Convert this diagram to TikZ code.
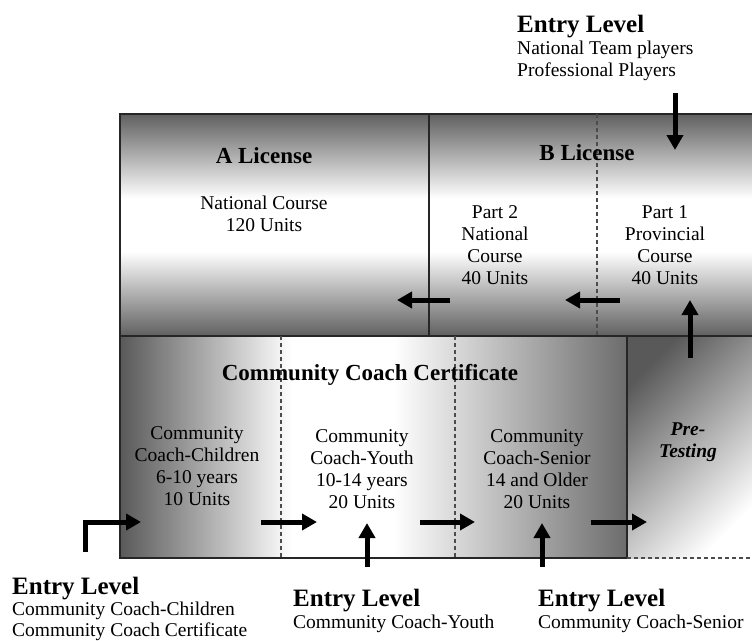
\documentclass[tikz,border=0pt]{standalone}
\usepackage{fontspec}
\setmainfont{Liberation Serif}
\usetikzlibrary{arrows.meta}
\newcommand{\bodysize}{\fontsize{19.5}{22}\selectfont}
\newcommand{\headsize}{\fontsize{23}{26}\selectfont\bfseries}
\newcommand{\entrysize}{\fontsize{25}{28}\selectfont\bfseries}
\pgfdeclareverticalshading{licenseband}{100bp}{color(0bp)=(gray!75!black); color(25bp)=(gray!75!black);
  color(44bp)=(white); color(56bp)=(white); color(75bp)=(gray!75!black); color(100bp)=(gray!75!black)}
\pgfdeclarehorizontalshading{coachband}{100bp}{color(0bp)=(gray!70!black); color(25bp)=(gray!70!black);
  color(42bp)=(white); color(52bp)=(white); color(75bp)=(gray!85!black); color(100bp)=(gray!85!black)}

\begin{document}
\begin{tikzpicture}
  [x=1pt, y=-1pt,
   boxline/.style={draw=black!85, line width=1.3pt},
   divider/.style={draw=black!70, line width=1.2pt, dash pattern=on 4pt off 3pt},
   unit/.style={align=center, font=\bodysize, inner sep=0pt},
   headtext/.style={anchor=base, font=\headsize, inner sep=0pt},
   entry/.style={anchor=north west, align=left, font=\bodysize, inner sep=0pt},
   thickarrow/.style={-{Triangle[length=15pt,width=16pt]}, line width=5pt, line join=miter}]
  \useasboundingbox (0,0) rectangle (752,640);

  \shade[shading=licenseband] (120,114) rectangle (752,336);
  \shade[shading=coachband] (120,336) rectangle (627,558);
  \shade[top color=gray!70!black, bottom color=white, shading angle=45] (627,336) rectangle (752,558);

  \draw[boxline] (752,114) -- (120,114) -- (120,558) -- (627,558);
  \draw[boxline] (120,336) -- (752,336);
  \draw[boxline] (429,114) -- (429,336);
  \draw[boxline] (627,336) -- (627,558);
  \draw[divider] (627,558) -- (752,558);
  \draw[divider] (597,114) -- (597,336);
  \draw[divider] (281,336) -- (281,558);
  \draw[divider] (455,336) -- (455,558);

  \node[headtext] (alicense) at (264,163) {A License};
  \node[unit] (acourse) at (264,214) {National Course\\120 Units};
  \node[headtext] (blicense) at (587,160) {B License};
  \node[unit] (part2) at (495,245) {Part 2\\National\\Course\\40 Units};
  \node[unit] (part1) at (665,245) {Part 1\\Provincial\\Course\\40 Units};
  \node[headtext] (cccert) at (370,380) {Community Coach Certificate};
  \node[unit] (children) at (197,466) {Community\\Coach-Children\\6-10 years\\10 Units};
  \node[unit] (youth) at (362,469) {Community\\Coach-Youth\\10-14 years\\20 Units};
  \node[unit] (senior) at (537,469) {Community\\Coach-Senior\\14 and Older\\20 Units};
  \node[unit, font=\bodysize\bfseries\itshape] (pretest) at (688,442) {Pre-\\Testing};

  \node[entry] (entrytop) at (517,15) {{\entrysize Entry Level}\\National Team players\\Professional Players};
  \node[entry, font=\fontsize{19.5}{21}\selectfont] (entrychildren) at (12,577) {{\entrysize Entry Level}\\Community Coach-Children\\Community Coach Certificate};
  \node[entry] (entryyouth) at (293,589) {{\entrysize Entry Level}\\Community Coach-Youth};
  \node[entry] (entrysenior) at (538,589) {{\entrysize Entry Level}\\Community Coach-Senior};

  \coordinate (toptail) at (675,93);   \coordinate (toptip) at (675,150);
  \coordinate (p1tail) at (690,358);   \coordinate (p1tip) at (690,300);
  \coordinate (p1left) at (620,300);   \coordinate (p1lefttip) at (565,300);
  \coordinate (p2left) at (450,300);   \coordinate (p2lefttip) at (397,300);
  \coordinate (chtail) at (85,552);    \coordinate (chbend) at (85,522);   \coordinate (chtip) at (141,522);
  \coordinate (chout) at (261,522);    \coordinate (chouttip) at (317,522);
  \coordinate (yout) at (420,522);     \coordinate (youttip) at (475,522);
  \coordinate (sout) at (591,522);     \coordinate (souttip) at (647,522);
  \coordinate (ytail) at (367,567);    \coordinate (ytip) at (367,523);
  \coordinate (stail) at (542,567);    \coordinate (stip) at (542,523);

  \draw[thickarrow] (toptail) -- (toptip);
  \draw[thickarrow] (p1tail) -- (p1tip);
  \draw[thickarrow] (p1left) -- (p1lefttip);
  \draw[thickarrow] (p2left) -- (p2lefttip);
  \draw[thickarrow] (chtail) -- (chbend) -- (chtip);
  \draw[thickarrow] (chout) -- (chouttip);
  \draw[thickarrow] (yout) -- (youttip);
  \draw[thickarrow] (sout) -- (souttip);
  \draw[thickarrow] (ytail) -- (ytip);
  \draw[thickarrow] (stail) -- (stip);
\end{tikzpicture}
\end{document}
